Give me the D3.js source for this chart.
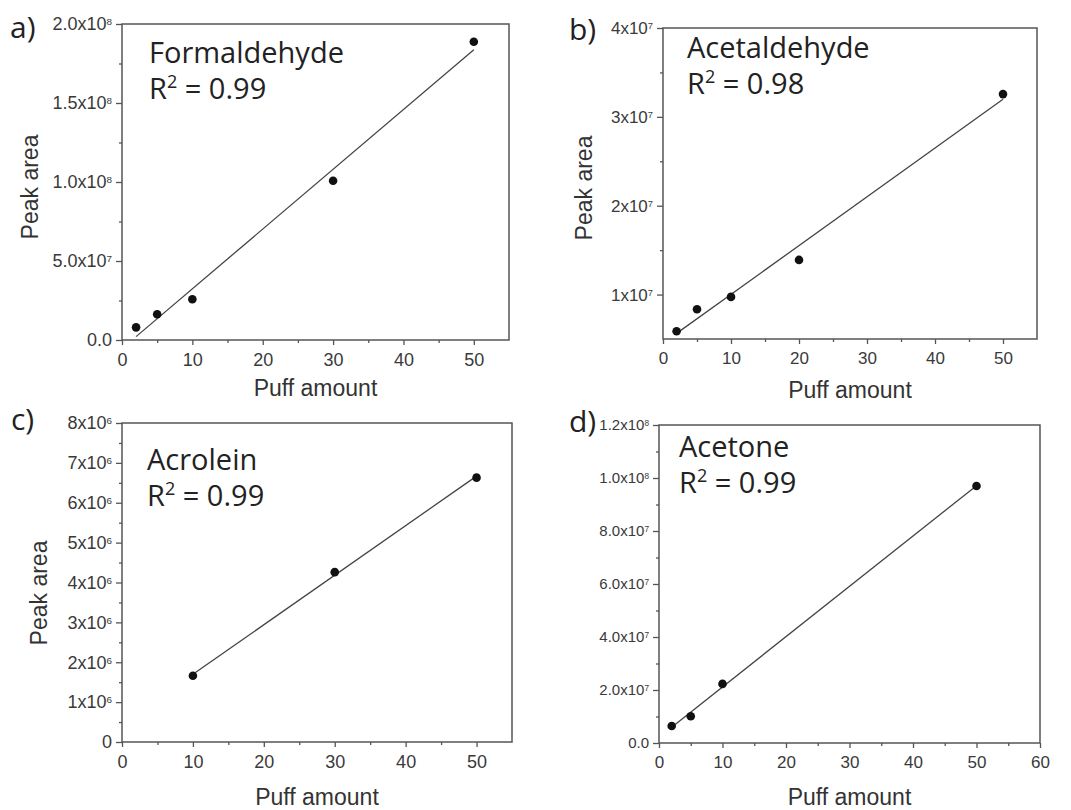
<!DOCTYPE html>
<html lang="en">
<head>
  <meta charset="UTF-8">
  <title>Peak area vs puff amount</title>
  <script src="https://d3js.org/d3.v7.min.js"></script>
  <style>
    body { margin: 0; background: #fff; }
    .frame { fill: none; stroke: #555; stroke-width: 1.5px; }
    .tick line { stroke: #555; stroke-width: 1.3px; }
    .tick text { fill: #3a3a3a; font-family: "Liberation Sans", Arial, sans-serif; }
    .fit { fill: none; stroke: #444; stroke-width: 1.3px; }
    .dot { fill: #111; }
    .title { font-family: "Open Sans", sans-serif; fill: #222; }
    .axis-label { font-family: "Liberation Sans", Arial, sans-serif; fill: #333; font-size: 23px; }
  </style>
</head>
<body>
<svg width="1071" height="810" id="fig"></svg>

<script>
  // panel text
  const panelLetters = ['a)', 'b)', 'c)', 'd)'];
  const compounds = ['Formaldehyde', 'Acetaldehyde', 'Acrolein', 'Acetone'];
  const r2Values = ['0.99', '0.98', '0.99', '0.99'];

  // data (puff amount vs peak area)
  const puffA = [2, 5, 10, 30, 50];
  const areaA = [8.0e6, 1.63e7, 2.58e7, 1.008e8, 1.888e8];
  const puffB = [2, 5, 10, 20, 50];
  const areaB = [5.87e6, 8.35e6, 9.74e6, 1.39e7, 3.256e7];
  const puffC = [10, 30, 50];
  const areaC = [1.66e6, 4.26e6, 6.63e6];
  const puffD = [2, 5, 10, 50];
  const areaD = [6.4e6, 1.01e7, 2.23e7, 9.70e7];

  // tick values and labels ([mantissa, exponent])
  const xTicksABC = [0, 10, 20, 30, 40, 50];
  const xTicksD = [0, 10, 20, 30, 40, 50, 60];
  const yTicksA = [0, 5e7, 1e8, 1.5e8, 2e8];
  const yLabelsA = [['0.0', ''], ['5.0x10', '7'], ['1.0x10', '8'], ['1.5x10', '8'], ['2.0x10', '8']];
  const yTicksB = [1e7, 2e7, 3e7, 4e7];
  const yLabelsB = [['1x10', '7'], ['2x10', '7'], ['3x10', '7'], ['4x10', '7']];
  const yTicksC = [0, 1e6, 2e6, 3e6, 4e6, 5e6, 6e6, 7e6, 8e6];
  const yLabelsC = [['0', ''], ['1x10', '6'], ['2x10', '6'], ['3x10', '6'], ['4x10', '6'],
                    ['5x10', '6'], ['6x10', '6'], ['7x10', '6'], ['8x10', '6']];
  const yTicksD = [0, 2e7, 4e7, 6e7, 8e7, 1e8, 1.2e8];
  const yLabelsD = [['0.0', ''], ['2.0x10', '7'], ['4.0x10', '7'], ['6.0x10', '7'],
                    ['8.0x10', '7'], ['1.0x10', '8'], ['1.2x10', '8']];

  const panels = [
    { x: puffA, y: areaA, xTicks: xTicksABC, yTicks: yTicksA, yLabels: yLabelsA,
      xDom: [0, 55], yDom: [0, 2e8], yMinor: 2.5e7,
      box: [122, 509, 24, 340], yFont: 18, xFont: 18, yLab: true,
      letter: [10, 38], title: [149, 63], xLab: 396, yLabX: 38, yLabY: 187 },
    { x: puffB, y: areaB, xTicks: xTicksABC, yTicks: yTicksB, yLabels: yLabelsB,
      xDom: [0, 55], yDom: [5e6, 4e7], yMinor: 5e6,
      box: [663, 1037, 28, 339], yFont: 17, xFont: 17, yLab: true,
      letter: [569, 40], title: [687, 58], xLab: 398, yLabX: 592, yLabY: 188 },
    { x: puffC, y: areaC, xTicks: xTicksABC, yTicks: yTicksC, yLabels: yLabelsC,
      xDom: [0, 55], yDom: [0, 8e6], yMinor: 5e5,
      box: [122, 512, 423, 742], yFont: 18, xFont: 18, yLab: true,
      letter: [11, 430], title: [147, 470], xLab: 805, yLabX: 47, yLabY: 593 },
    { x: puffD, y: areaD, xTicks: xTicksD, yTicks: yTicksD, yLabels: yLabelsD,
      xDom: [0, 60], yDom: [0, 1.2e8], yMinor: 1e7,
      box: [659, 1040, 425, 743], yFont: 15, xFont: 17, yLab: false,
      letter: [569, 432], title: [679, 457], xLab: 805, yLabX: 0, yLabY: 0 }
  ];

  const svg = d3.select('#fig');

  function linearFit(xs, ys) {
    const mx = d3.mean(xs), my = d3.mean(ys);
    const sxy = d3.sum(xs, (x, i) => (x - mx) * (ys[i] - my));
    const sxx = d3.sum(xs, x => (x - mx) * (x - mx));
    const slope = sxy / sxx;
    return { slope: slope, icpt: my - slope * mx };
  }

  panels.forEach((p, k) => {
    const [x0, x1, y0, y1] = p.box;
    const x = d3.scaleLinear().domain(p.xDom).range([x0, x1]);
    const y = d3.scaleLinear().domain(p.yDom).range([y1, y0]);
    const g = svg.append('g');

    // minor ticks
    const xMinor = d3.range(p.xDom[0] + 5, p.xDom[1], 10);
    const yMinor = d3.range(p.yDom[0], p.yDom[1] + 1, p.yMinor)
      .filter(v => !p.yTicks.some(t => Math.abs(t - v) < 1) && v > p.yDom[0]);
    g.append('g').attr('transform', `translate(0,${y1})`)
      .call(d3.axisBottom(x).tickValues(xMinor).tickSize(3).tickFormat(''))
      .call(s => s.select('.domain').remove());
    g.append('g').attr('transform', `translate(${x0},0)`)
      .call(d3.axisLeft(y).tickValues(yMinor).tickSize(3).tickFormat(''))
      .call(s => s.select('.domain').remove());

    // major ticks
    const xAxis = g.append('g').attr('transform', `translate(0,${y1})`)
      .call(d3.axisBottom(x).tickValues(p.xTicks).tickSize(5).tickPadding(8));
    xAxis.select('.domain').remove();
    xAxis.selectAll('.tick text').attr('font-size', p.xFont);

    const yAxis = g.append('g').attr('transform', `translate(${x0},0)`)
      .call(d3.axisLeft(y).tickValues(p.yTicks).tickSize(6).tickPadding(4)
        .tickFormat((d, i) => p.yLabels[i][0]));
    yAxis.select('.domain').remove();
    yAxis.selectAll('.tick text')
      .attr('font-size', p.yFont)
      .each(function(d, i) {
        const ex = p.yLabels[i][1];
        if (ex) {
          d3.select(this).append('tspan')
            .attr('dy', '-0.5em')
            .attr('font-size', '0.55em')
            .text(ex);
        }
      });

    // frame
    g.append('rect').attr('class', 'frame')
      .attr('x', x0).attr('y', y0)
      .attr('width', x1 - x0).attr('height', y1 - y0);

    // fitted line
    const f = linearFit(p.x, p.y);
    const xs = d3.extent(p.x);
    g.append('line').attr('class', 'fit')
      .attr('x1', x(xs[0])).attr('y1', y(f.icpt + f.slope * xs[0]))
      .attr('x2', x(xs[1])).attr('y2', y(f.icpt + f.slope * xs[1]));

    // points
    g.selectAll('.dot')
      .data(p.x.map((v, i) => [v, p.y[i]]))
      .enter()
      .append('circle')
      .attr('class', 'dot')
      .attr('cx', d => x(d[0]))
      .attr('cy', d => y(d[1]))
      .attr('r', 4.3);

    // compound name + R^2
    g.append('text').attr('class', 'title')
      .attr('x', p.title[0]).attr('y', p.title[1])
      .attr('font-size', 29)
      .text(compounds[k]);
    const r2 = g.append('text').attr('class', 'title')
      .attr('x', p.title[0]).attr('y', p.title[1] + 36)
      .attr('font-size', 29);
    r2.append('tspan').text('R');
    r2.append('tspan').attr('dy', -11).attr('font-size', 18).text('2');
    r2.append('tspan').attr('dy', 11).text(' = ' + r2Values[k]);

    // panel letter
    g.append('text').attr('class', 'title')
      .attr('x', p.letter[0]).attr('y', p.letter[1])
      .attr('font-size', 30)
      .text(panelLetters[k]);

    // axis titles
    g.append('text').attr('class', 'axis-label')
      .attr('x', (x0 + x1) / 2).attr('y', p.xLab)
      .attr('text-anchor', 'middle')
      .text('Puff amount');
    if (p.yLab) {
      g.append('text').attr('class', 'axis-label')
        .attr('transform', `translate(${p.yLabX},${p.yLabY}) rotate(-90)`)
        .attr('text-anchor', 'middle')
        .text('Peak area');
    }
  });
</script>
</body>
</html>
